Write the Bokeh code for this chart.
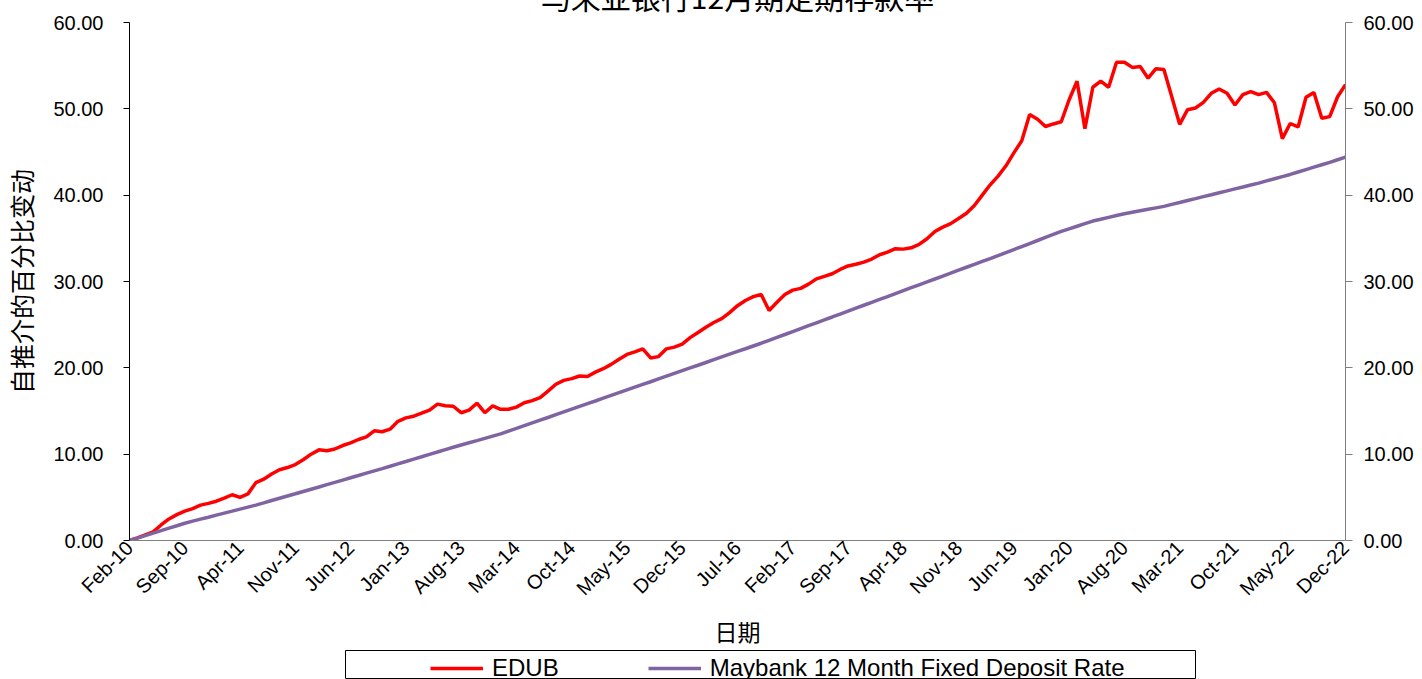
import math
from bokeh.plotting import figure
from bokeh.layouts import column
from bokeh.models import (LinearAxis, FixedTicker, Legend, LegendItem, Range1d,
                          NumeralTickFormatter)
from bokeh.embed import file_html
from bokeh.resources import INLINE

# ---------------- data ----------------
tick_labels = ["Feb-10", "Sep-10", "Apr-11", "Nov-11", "Jun-12", "Jan-13", "Aug-13",
               "Mar-14", "Oct-14", "May-15", "Dec-15", "Jul-16", "Feb-17", "Sep-17",
               "Apr-18", "Nov-18", "Jun-19", "Jan-20", "Aug-20", "Mar-21", "Oct-21",
               "May-22", "Dec-22"]

edub = [0.0, 0.3, 0.65, 1.0, 1.8, 2.5, 3.0, 3.4, 3.7, 4.1,
        4.3, 4.55, 4.9, 5.3, 5.0, 5.4, 6.7, 7.1, 7.7, 8.2,
        8.45, 8.8, 9.35, 10.0, 10.5, 10.4, 10.6, 11.0, 11.3, 11.7,
        12.0, 12.7, 12.6, 12.9, 13.8, 14.2, 14.4, 14.75, 15.1, 15.8,
        15.6, 15.55, 14.8, 15.1, 15.9, 14.8, 15.6, 15.2, 15.2, 15.45,
        15.95, 16.2, 16.55, 17.3, 18.1, 18.55, 18.75, 19.05, 19.0, 19.5,
        19.9, 20.4, 21.0, 21.55, 21.85, 22.2, 21.15, 21.3, 22.2, 22.4,
        22.75, 23.5, 24.1, 24.7, 25.25, 25.7, 26.4, 27.2, 27.8, 28.25,
        28.5, 26.65, 27.6, 28.5, 29.0, 29.2, 29.7, 30.3, 30.6, 30.9,
        31.4, 31.8, 32.0, 32.25, 32.6, 33.1, 33.4, 33.8, 33.75, 33.9,
        34.3, 34.95, 35.8, 36.3, 36.7, 37.3, 37.9, 38.8, 40.0, 41.2,
        42.2, 43.4, 44.9, 46.3, 49.35, 48.8, 47.95, 48.25, 48.5, 51.05,
        53.2, 47.7, 52.5, 53.2, 52.5, 55.4, 55.4, 54.8, 54.9, 53.55,
        54.65, 54.55, 51.4, 48.2, 49.9, 50.1, 50.75, 51.8, 52.3, 51.8,
        50.45, 51.65, 52.0, 51.65, 51.9, 50.7, 46.55, 48.3, 47.9, 51.35,
        51.9, 48.9, 49.1, 51.4, 52.8]

maybank = [0.0, 0.28, 0.57, 0.86, 1.14, 1.43, 1.71, 2.0, 2.24, 2.47,
           2.7, 2.94, 3.17, 3.4, 3.64, 3.87, 4.1, 4.36, 4.63, 4.89,
           5.15, 5.41, 5.68, 5.94, 6.2, 6.47, 6.73, 7.0, 7.27, 7.53,
           7.8, 8.07, 8.33, 8.6, 8.88, 9.15, 9.43, 9.7, 9.98, 10.25,
           10.53, 10.8, 11.06, 11.32, 11.57, 11.83, 12.09, 12.35, 12.67, 12.98,
           13.3, 13.62, 13.94, 14.25, 14.57, 14.89, 15.21, 15.53, 15.85, 16.16,
           16.48, 16.8, 17.12, 17.44, 17.76, 18.08, 18.39, 18.71, 19.03, 19.35,
           19.67, 19.99, 20.3, 20.62, 20.94, 21.26, 21.58, 21.9, 22.21, 22.53,
           22.85, 23.19, 23.53, 23.86, 24.2, 24.54, 24.88, 25.22, 25.56, 25.89,
           26.23, 26.57, 26.91, 27.25, 27.59, 27.92, 28.26, 28.6, 28.94, 29.28,
           29.62, 29.95, 30.29, 30.63, 30.97, 31.31, 31.65, 31.98, 32.32, 32.66,
           33.0, 33.35, 33.7, 34.05, 34.4, 34.75, 35.1, 35.45, 35.8, 36.1,
           36.4, 36.7, 37.0, 37.21, 37.43, 37.64, 37.85, 38.02, 38.19, 38.36,
           38.53, 38.7, 38.93, 39.15, 39.38, 39.6, 39.83, 40.05, 40.28, 40.5,
           40.73, 40.95, 41.18, 41.4, 41.65, 41.9, 42.15, 42.4, 42.68, 42.96,
           43.24, 43.52, 43.8, 44.1, 44.4]

months = list(range(len(edub)))
tick_step = 7
tick_positions = [i * tick_step for i in range(len(tick_labels))]
y_ticks = [0, 10, 20, 30, 40, 50, 60]

title_text = "马来亚银行12月期定期存款率"
x_title = "日期"
y_title = "自推介的百分比变动"
series_names = ["EDUB", "Maybank 12 Month Fixed Deposit Rate"]
series_colors = ["#FF0000", "#8064A2"]

LATIN = "Liberation Sans"
CJK = "Noto Sans CJK SC"

# ---------------- main chart ----------------
W = 1422
TOP, FRAME_H, BOTTOM = 56, 518, 111
H1 = TOP + FRAME_H + BOTTOM
p = figure(width=W, height=H1, output_backend="svg", toolbar_location=None,
           x_range=Range1d(0, months[-1]), y_range=Range1d(0, 60),
           min_border_left=129, min_border_right=77, min_border_top=TOP,
           min_border_bottom=BOTTOM, y_axis_location=None, x_axis_location=None)
p.frame_align = False
p.outline_line_color = None
p.grid.visible = False
p.background_fill_color = "white"
p.border_fill_color = "white"

p.title.text = title_text
p.title.align = "center"
p.title.text_font = CJK
p.title.text_font_size = "30px"
p.title.text_font_style = "normal"
p.title.text_color = "black"
p.title.standoff = 10

p.line(months, edub, line_color=series_colors[0], line_width=3.5)
p.line(months, maybank, line_color=series_colors[1], line_width=3.5)

# left axis
yl = LinearAxis(ticker=FixedTicker(ticks=y_ticks),
                formatter=NumeralTickFormatter(format="0.00"))
yl.axis_line_color = "black"
yl.major_tick_line_color = "black"
yl.major_tick_out = 6
yl.major_tick_in = 0
yl.minor_tick_out = 0
yl.minor_tick_in = 0
yl.major_label_standoff = 20
yl.major_label_text_font = LATIN
yl.major_label_text_font_size = "20px"
yl.major_label_text_color = "black"
yl.axis_label = y_title
yl.axis_label_text_font = CJK
yl.axis_label_text_font_size = "25px"
yl.axis_label_text_font_style = "normal"
yl.axis_label_text_color = "black"
yl.axis_label_standoff = 11
p.add_layout(yl, "left")

# right axis
yr = LinearAxis(ticker=FixedTicker(ticks=y_ticks),
                formatter=NumeralTickFormatter(format="0.00"))
yr.axis_line_color = "#808080"
yr.major_tick_line_color = "#808080"
yr.major_tick_out = 7
yr.major_tick_in = 0
yr.minor_tick_out = 0
yr.minor_tick_in = 0
yr.major_label_standoff = 11
yr.major_label_text_font = LATIN
yr.major_label_text_font_size = "20px"
yr.major_label_text_color = "black"
p.add_layout(yr, "right")

# bottom axis
xb = LinearAxis(ticker=FixedTicker(ticks=tick_positions))
xb.major_label_overrides = {pos: lab for pos, lab in zip(tick_positions, tick_labels)}
xb.major_label_orientation = math.pi / 4
xb.axis_line_color = "#808080"
xb.major_tick_out = 0
xb.major_tick_in = 0
xb.minor_tick_out = 0
xb.minor_tick_in = 0
xb.major_label_standoff = 4
xb.major_label_text_font = LATIN
xb.major_label_text_font_size = "20px"
xb.major_label_text_color = "black"
xb.axis_label = x_title
xb.axis_label_text_font = CJK
xb.axis_label_text_font_size = "23px"
xb.axis_label_text_font_style = "normal"
xb.axis_label_text_color = "black"
xb.axis_label_standoff = 4
p.add_layout(xb, "below")

# ---------------- legend strip (boxed) ----------------
H2 = 29
q = figure(width=W, height=H2, output_backend="svg", toolbar_location=None,
           x_range=Range1d(-2, -1), y_range=Range1d(-2, -1),
           min_border_left=345, min_border_right=227, min_border_top=0,
           min_border_bottom=0, x_axis_location=None, y_axis_location=None)
q.frame_align = False
q.grid.visible = False
q.outline_line_color = "black"
q.outline_line_width = 1
q.background_fill_color = "white"
q.border_fill_color = "white"
q.margin = (-1, 0, 0, 0)
# legend proxies: the series themselves, lying outside this strip's ranges
g1 = q.line(months, edub, line_color=series_colors[0], line_width=3.5)
g2 = q.line(months, maybank, line_color=series_colors[1], line_width=3.5)

legend = Legend(items=[LegendItem(label=series_names[0], renderers=[g1]),
                       LegendItem(label=series_names[1], renderers=[g2])],
                orientation="horizontal", location=(79, -9))
legend.glyph_width = 53
legend.label_standoff = 9
legend.spacing = 89
legend.padding = 6
legend.margin = 0
legend.label_text_font = LATIN
legend.label_text_font_size = "24px"
legend.label_text_color = "black"
legend.border_line_alpha = 0
legend.background_fill_alpha = 0
q.add_layout(legend, "center")

layout = column(p, q, spacing=0)
layout.margin = (22 - TOP, 0, 0, 0)

open("out.html", "w").write(file_html(layout, INLINE))
